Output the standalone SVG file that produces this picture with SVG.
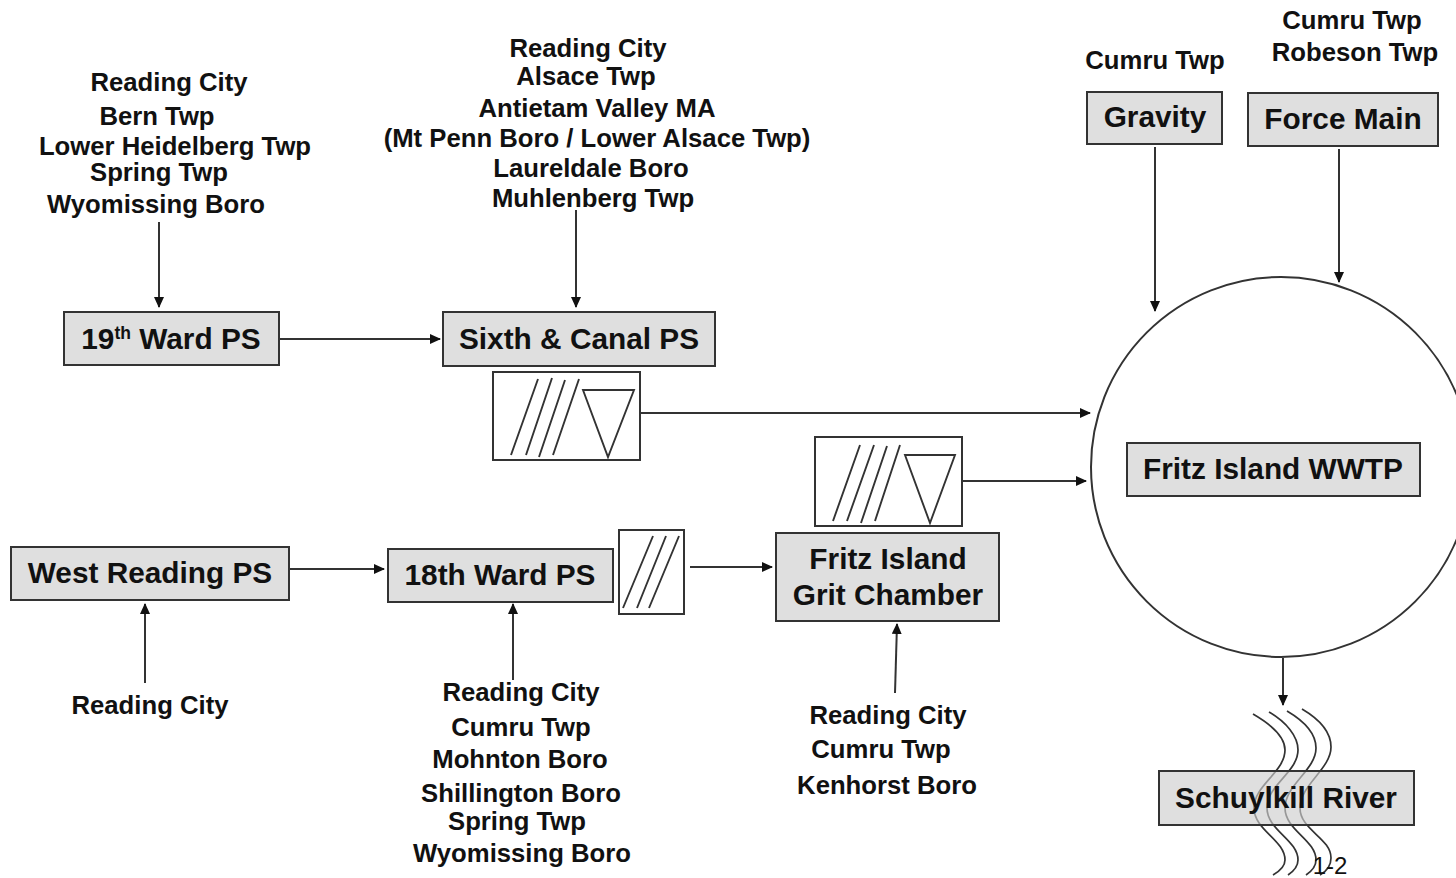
<svg xmlns="http://www.w3.org/2000/svg" width="1456" height="878" viewBox="0 0 1456 878">
<defs>
<marker id="a" markerWidth="12" markerHeight="12" refX="10" refY="5" orient="auto" markerUnits="userSpaceOnUse"><path d="M0 0L11 5L0 10Z" fill="#111"/></marker>
</defs>
<style>
.b{fill:#cecece;fill-opacity:.65;stroke:#333;stroke-width:2}
.w{fill:#fff;stroke:#333;stroke-width:2}
.c{fill:none;stroke:#333;stroke-width:2;marker-end:url(#a)}
.l{fill:none;stroke:#333;stroke-width:1.9}
text{font-family:"Liberation Sans",Arial,sans-serif;font-weight:700;fill:#111;text-anchor:middle}
.s{font-size:25.7px}
.t{font-size:29.8px}
</style>
<rect width="1456" height="878" fill="#fff"/>
<g id="plant"><circle cx="1281" cy="467" r="190" fill="#fff" stroke="#333" stroke-width="2"/></g>
<g id="connectors">
<path class="c" d="M159 222V307"/>
<path class="c" d="M576 210V307"/>
<path class="c" d="M280 339H440"/>
<path class="c" d="M640 413H1090"/>
<path class="c" d="M962 481H1086"/>
<path class="c" d="M1155 147V311"/>
<path class="c" d="M1339 149V282"/>
<path class="c" d="M290 569H384"/>
<path class="c" d="M690 567H772"/>
<path class="c" d="M145 683V604"/>
<path class="c" d="M513 680V604"/>
<path class="c" d="M895 693L897 624"/>
<path class="c" d="M1283 658V705"/>
</g>
<g id="river" fill="none" stroke="#333" stroke-width="1.7">
<path d="M1253 714C1272 725 1285 738 1285 750C1285 772 1254 785 1254 808C1254 830 1285 840 1285 860C1285 866 1280 871 1273 875"/>
<path d="M1269 712C1286 722 1298 736 1298 750C1298 772 1267 785 1267 808C1267 830 1298 840 1298 860C1298 866 1294 871 1288 875"/>
<path d="M1287 711C1304 721 1316 734 1316 748C1316 770 1285 785 1285 808C1285 830 1316 840 1316 860C1316 866 1312 871 1306 875"/>
<path d="M1302 709C1319 719 1331 732 1331 747C1331 769 1300 785 1300 808C1300 830 1331 838 1331 858C1331 865 1327 871 1320 875"/>
</g>
<g id="n19"><rect class="b" x="64" y="312" width="215" height="53"/><text class="t" x="171" y="349">19<tspan font-size="17.5" dy="-10">th</tspan><tspan dy="10"> Ward PS</tspan></text></g>
<g id="n6"><rect class="b" x="443" y="312" width="272" height="54"/><text class="t" x="579" y="349">Sixth &amp; Canal PS</text></g>
<g id="nwr"><rect class="b" x="11" y="547" width="278" height="53"/><text class="t" x="150" y="583">West Reading PS</text></g>
<g id="n18"><rect class="b" x="388" y="549" width="225" height="53"/><text class="t" x="500" y="585">18th Ward PS</text></g>
<g id="ngrit"><rect class="b" x="776" y="533" width="223" height="88"/><text class="t" x="888" y="569">Fritz Island</text><text class="t" x="888" y="605">Grit Chamber</text></g>
<g id="ngrav"><rect class="b" x="1087" y="92" width="135" height="52"/><text class="t" x="1155" y="127">Gravity</text></g>
<g id="nforce"><rect class="b" x="1248" y="93" width="190" height="53"/><text class="t" x="1343" y="129">Force Main</text></g>
<g id="nwwtp"><rect class="b" x="1127" y="443" width="293" height="53"/><text class="t" x="1273" y="479">Fritz Island WWTP</text></g>
<g id="nriver"><rect class="b" x="1159" y="771" width="255" height="54"/><text class="t" x="1286" y="808">Schuylkill River</text></g>
<g id="sym1"><rect class="w" x="493" y="372" width="147" height="88"/><path class="l" d="M511 455L538 379M526 455L552 378M539 457L565 380M553 455L579 379"/><path class="l" d="M583 390H634L608 457Z"/></g>
<g id="sym2"><rect class="w" x="815" y="437" width="147" height="89"/><path class="l" d="M833 521L860 445M847 521L874 445M861 523L887 446M875 521L900 445"/><path class="l" d="M905 455H955L930 523Z"/></g>
<g id="sym3"><rect class="w" x="619" y="530" width="65" height="84"/><path class="l" d="M623 608L653 536M637 608L666 536M649 608L679 536"/></g>
<g id="labels">
<text class="s" x="169" y="91">Reading City</text>
<text class="s" x="157" y="125">Bern Twp</text>
<text class="s" x="175" y="155">Lower Heidelberg Twp</text>
<text class="s" x="159" y="181">Spring Twp</text>
<text class="s" x="156" y="213">Wyomissing Boro</text>
<text class="s" x="588" y="57">Reading City</text>
<text class="s" x="586" y="85">Alsace Twp</text>
<text class="s" x="597" y="117">Antietam Valley MA</text>
<text class="s" x="597" y="147">(Mt Penn Boro / Lower Alsace Twp)</text>
<text class="s" x="591" y="177">Laureldale Boro</text>
<text class="s" x="593" y="207">Muhlenberg Twp</text>
<text class="s" x="1155" y="69">Cumru Twp</text>
<text class="s" x="1352" y="29">Cumru Twp</text>
<text class="s" x="1355" y="61">Robeson Twp</text>
<text class="s" x="150" y="714">Reading City</text>
<text class="s" x="521" y="701">Reading City</text>
<text class="s" x="521" y="736">Cumru Twp</text>
<text class="s" x="520" y="768">Mohnton Boro</text>
<text class="s" x="521" y="802">Shillington Boro</text>
<text class="s" x="517" y="830">Spring Twp</text>
<text class="s" x="522" y="862">Wyomissing Boro</text>
<text class="s" x="888" y="724">Reading City</text>
<text class="s" x="881" y="758">Cumru Twp</text>
<text class="s" x="887" y="794">Kenhorst Boro</text>
<text x="1330" y="874" style="font-weight:400;font-size:24px">1-2</text>
</g>
</svg>
